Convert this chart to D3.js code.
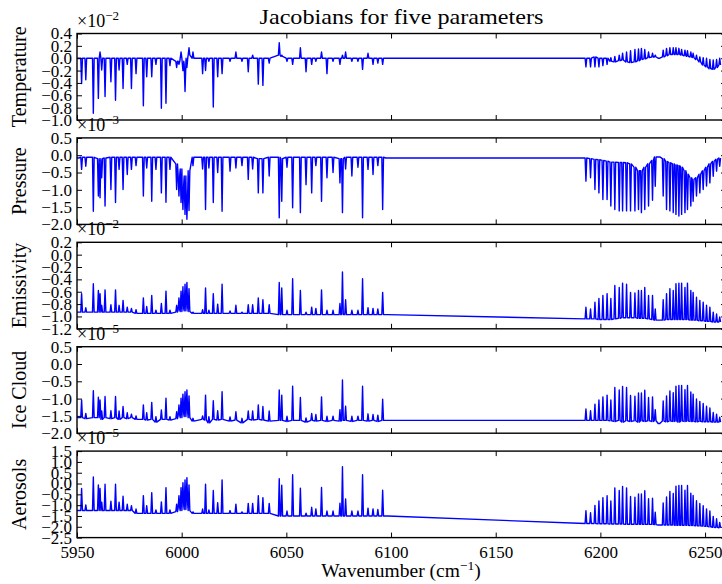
<!DOCTYPE html>
<html><head><meta charset="utf-8">
<script src="https://cdn.jsdelivr.net/npm/d3@7"></script>
<style>body{margin:0;background:#fff}svg{display:block}</style>
</head><body>
<script>
// ---------------- DATA ----------------
// spectral line centres (cm^-1), shared by all five Jacobians
const lineCenters = [
5950.4,5952.2,5954.2,5957.8,5960.2,5961.0,5961.8,5963.4,5966.2,5968.4,
5970.1,5972.0,5974.0,5976.0,5978.2,5981.7,5983.3,5985.7,5987.7,5990.3,
5992.5,5994.4,5997.6,5998.7,5999.7,6000.6,6001.6,6002.5,6003.5,6005.4,
6010.0,6011.4,6013.0,6015.1,6017.2,6019.3,6023.1,6025.9,6028.8,6031.8,
6033.9,6036.6,6038.8,6041.8,6046.6,6047.8,6050.3,6053.0,6056.7,6059.4,
6062.1,6064.1,6066.8,6069.4,6072.3,6075.6,6076.8,6078.3,6081.3,6084.2,
6086.4,6089.0,6091.4,6093.7,6096.0,6098.0,
6193.1,6195.3,6197.4,6199.3,6201.2,6203.2,6205.0,6206.9,6209.0,6210.6,
6212.5,6214.4,6216.5,6218.2,6219.6,6221.2,6223.0,6224.9,6226.2,6228.0,
6230.0,6231.6,6233.2,6234.8,6236.1,6237.5,6238.8,6240.4,6241.6,6243.2,
6244.3,6245.9,6247.5,6249.1,6250.7,6252.3,6253.9,6255.5,6257.0];

// Temperature Jacobian (x1e-2): value at line centre, and level on either side
const temperaturePeak = [
0,-0.41,-0.35,-0.89,-0.65,0.10,-0.19,-0.62,-0.38,-0.68,
-0.19,-0.49,-0.10,-0.49,-0.25,-0.77,-0.30,-0.30,-0.10,-0.81,
-0.73,-0.12,-0.15,-0.10,0.10,-0.20,-0.54,-0.15,0.17,0.10,
-0.25,-0.20,-0.05,-0.79,-0.30,-0.25,-0.05,0.10,-0.05,-0.22,
0.05,-0.42,-0.44,-0.08,0.25,0.05,-0.05,-0.10,0.17,-0.22,
-0.10,-0.05,0.10,-0.25,-0.05,-0.10,0.05,0.10,-0.05,-0.05,
-0.18,0.08,-0.10,-0.08,-0.10,0,
-0.14,-0.14,-0.14,-0.14,-0.12,-0.10,0.01,0.03,0.05,0.08,
0.10,0.12,0.14,0.15,0.16,0.14,0.10,0.08,0.05,0.00,
0.13,0.16,0.17,0.17,0.17,0.16,0.14,0.13,0.12,0.10,
0.08,0.05,0.02,0.01,0.00,-0.02,-0.03,-0.02,0.00];
const temperatureBase = [
0,0,0,0,0,0,0,0,0,0,
0,0,0,0,0,0,0,0,0,0,
0,0,-0.05,-0.05,0,-0.05,-0.10,0,0.05,0,
0,0,0,0,0,0,0,0,0,0,
0,0,0,0,0.05,0.03,0,0,0,0,
0,0,0,0,0,0,0,0,0,0,
0,0,0,0,0,0,
0.00,0.00,0.02,0.00,0.00,0.00,-0.05,-0.06,-0.04,-0.03,
-0.06,-0.07,-0.06,-0.04,-0.02,-0.01,0.01,0.02,0.02,0.00,
0.02,0.04,0.06,0.06,0.06,0.06,0.05,0.04,0.03,0.02,
0.01,-0.02,-0.06,-0.11,-0.14,-0.17,-0.18,-0.15,-0.11];

// Pressure Jacobian (x1e-3)
const pressurePeak = [
-0.08,-0.41,-0.32,-1.62,-1.18,-1.23,-0.65,-1.47,-0.99,-1.37,
-0.41,-0.99,-0.56,-0.41,-0.30,-1.18,-0.37,-1.33,-0.41,-1.09,
-1.36,-0.41,-0.99,-1.18,-1.37,-1.57,-1.71,-1.85,-1.60,-0.30,
-0.40,-1.57,-0.37,-1.37,-0.50,-1.62,-0.46,-0.37,-0.30,-0.70,
-0.40,-1.09,-1.09,-0.60,-1.81,-1.33,-0.35,-1.52,-1.66,-0.85,
-1.09,-0.30,-1.33,-0.65,-0.50,-0.80,-1.66,-0.40,-0.60,-0.35,
-1.81,-0.41,-0.56,-0.30,-1.57,-0.08,
-0.75,-0.65,-0.99,-1.09,-1.28,-1.28,-1.47,-1.57,-1.61,-1.61,
-1.61,-1.61,-1.61,-1.57,-1.66,-1.57,-1.47,-1.30,-0.90,-0.05,
-1.18,-1.57,-1.61,-1.66,-1.71,-1.76,-1.71,-1.66,-1.57,-1.47,
-1.33,-1.18,-1.09,-0.99,-0.89,-0.80,-0.61,-0.46,-0.32];
const pressureBase = [
-0.08,-0.06,-0.06,-0.06,-0.10,-0.15,-0.10,-0.08,-0.06,-0.06,
-0.06,-0.06,-0.06,-0.06,-0.06,-0.06,-0.06,-0.06,-0.06,-0.06,
-0.06,-0.06,-0.25,-0.55,-0.40,-0.80,-0.60,-1.00,-0.45,-0.06,
-0.06,-0.06,-0.06,-0.06,-0.06,-0.06,-0.06,-0.06,-0.06,-0.06,
-0.06,-0.10,-0.10,-0.06,-0.06,-0.10,-0.06,-0.06,-0.06,-0.06,
-0.06,-0.06,-0.06,-0.06,-0.06,-0.10,-0.10,-0.06,-0.06,-0.06,
-0.06,-0.06,-0.06,-0.06,-0.06,-0.08,
-0.08,-0.10,-0.12,-0.13,-0.15,-0.17,-0.20,-0.20,-0.21,-0.21,
-0.22,-0.25,-0.35,-0.45,-0.45,-0.35,-0.25,-0.15,-0.05,-0.05,
-0.10,-0.18,-0.22,-0.25,-0.28,-0.30,-0.35,-0.45,-0.55,-0.65,
-0.70,-0.65,-0.55,-0.45,-0.35,-0.25,-0.18,-0.12,-0.08];

// Emissivity Jacobian (x1e-2)
const emissivityPeak = [
-0.93,-0.63,-0.86,-0.47,-0.58,-0.63,-0.82,-0.57,-0.81,-0.57,
-0.82,-0.74,-0.85,-0.87,-0.89,-0.70,-0.84,-0.66,-0.90,-0.79,
-0.59,-0.90,-0.82,-0.70,-0.59,-0.52,-0.48,-0.45,-0.55,-0.93,
-0.89,-0.54,-0.90,-0.63,-0.80,-0.48,-0.91,-0.82,-0.93,-0.81,
-0.81,-0.70,-0.73,-0.81,-0.45,-0.54,-0.90,-0.39,-0.58,-0.93,
-0.85,-0.87,-0.57,-0.90,-0.90,-0.79,-0.28,-0.73,-0.90,-0.90,
-0.39,-0.86,-0.87,-0.88,-0.61,-0.97,
-0.85,-0.88,-0.77,-0.71,-0.66,-0.63,-0.71,-0.50,-0.53,-0.46,
-0.48,-0.61,-0.62,-0.58,-0.58,-0.53,-0.66,-0.66,-0.88,-1.06,
-0.73,-0.63,-0.55,-0.58,-0.47,-0.46,-0.46,-0.53,-0.46,-0.58,
-0.61,-0.69,-0.74,-0.77,-0.82,-0.85,-0.93,-0.96,-1.01];
const emissivityBase = [
-0.93,-0.93,-0.93,-0.93,-0.93,-0.93,-0.93,-0.93,-0.93,-0.93,
-0.93,-0.93,-0.93,-0.93,-0.95,-0.95,-0.95,-0.95,-0.95,-0.95,
-0.95,-0.95,-0.93,-0.90,-0.92,-0.88,-0.91,-0.87,-0.92,-0.95,
-0.95,-0.95,-0.95,-0.95,-0.95,-0.95,-0.95,-0.95,-0.95,-0.95,
-0.95,-0.95,-0.95,-0.95,-0.97,-0.97,-0.97,-0.97,-0.97,-0.97,
-0.97,-0.97,-0.97,-0.97,-0.97,-0.97,-0.97,-0.97,-0.97,-0.97,
-0.97,-0.97,-0.97,-0.97,-0.97,-0.97,
-1.04,-1.04,-1.04,-1.05,-1.05,-1.05,-1.05,-1.04,-1.03,-1.02,
-1.02,-1.02,-1.02,-1.03,-1.03,-1.03,-1.04,-1.05,-1.06,-1.06,
-1.06,-1.05,-1.05,-1.05,-1.05,-1.05,-1.05,-1.05,-1.05,-1.06,
-1.06,-1.06,-1.07,-1.07,-1.08,-1.08,-1.09,-1.09,-1.09];

// Ice cloud Jacobian (x1e-5)
const iceCloudPeak = [
-1.55,-1.04,-1.43,-0.77,-0.96,-1.04,-1.36,-0.94,-1.35,-0.94,
-1.36,-1.23,-1.41,-1.45,-1.50,-1.18,-1.41,-1.11,-1.52,-1.33,
-0.99,-1.52,-1.38,-1.18,-0.99,-0.87,-0.80,-0.75,-0.92,-1.57,
-1.50,-0.90,-1.52,-1.06,-1.35,-0.80,-1.53,-1.38,-1.57,-1.36,
-1.36,-1.18,-1.23,-1.36,-0.75,-0.90,-1.51,-0.64,-0.97,-1.56,
-1.43,-1.46,-0.95,-1.51,-1.51,-1.32,-0.46,-1.22,-1.51,-1.51,
-0.64,-1.44,-1.46,-1.48,-1.02,-1.63,
-1.30,-1.35,-1.16,-1.04,-0.95,-0.90,-1.04,-0.68,-0.75,-0.65,
-0.68,-0.91,-0.93,-0.84,-0.84,-0.76,-0.97,-0.95,-1.32,-1.72,
-1.07,-0.92,-0.78,-0.83,-0.64,-0.62,-0.62,-0.74,-0.62,-0.81,
-0.87,-1.01,-1.08,-1.14,-1.22,-1.27,-1.40,-1.45,-1.54];
const iceCloudBase = [
-1.55,-1.55,-1.58,-1.55,-1.55,-1.55,-1.60,-1.55,-1.58,-1.55,
-1.60,-1.55,-1.58,-1.55,-1.60,-1.60,-1.62,-1.60,-1.68,-1.60,
-1.60,-1.62,-1.58,-1.50,-1.55,-1.45,-1.52,-1.42,-1.55,-1.65,
-1.60,-1.62,-1.70,-1.60,-1.62,-1.60,-1.65,-1.62,-1.70,-1.60,
-1.62,-1.60,-1.62,-1.65,-1.63,-1.63,-1.66,-1.63,-1.63,-1.68,
-1.63,-1.65,-1.63,-1.66,-1.63,-1.65,-1.63,-1.63,-1.66,-1.63,
-1.63,-1.65,-1.63,-1.66,-1.63,-1.63,
-1.63,-1.63,-1.63,-1.63,-1.63,-1.63,-1.64,-1.66,-1.63,-1.68,
-1.64,-1.66,-1.64,-1.68,-1.64,-1.66,-1.64,-1.66,-1.64,-1.72,
-1.65,-1.67,-1.65,-1.66,-1.65,-1.68,-1.65,-1.66,-1.65,-1.66,
-1.66,-1.67,-1.66,-1.67,-1.67,-1.67,-1.68,-1.68,-1.68];

// Aerosols Jacobian (x1e-5)
const aerosolsPeak = [
-1.25,-0.23,-0.99,0.30,-0.07,-0.23,-0.86,-0.03,-0.82,-0.03,
-0.86,-0.59,-0.96,-1.02,-1.18,-0.56,-1.02,-0.42,-1.22,-0.85,
-0.19,-1.22,-0.95,-0.56,-0.19,0.04,0.17,0.27,-0.06,-1.31,
-1.18,-0.03,-1.22,-0.32,-0.89,0.17,-1.25,-0.95,-1.31,-0.92,
-0.92,-0.56,-0.65,-0.92,0.22,-0.08,-1.27,0.41,-0.21,-1.37,
-1.10,-1.17,-0.18,-1.27,-1.27,-0.91,0.78,-0.71,-1.27,-1.27,
0.41,-1.14,-1.17,-1.20,-0.31,-1.50,
-1.26,-1.35,-1.01,-0.80,-0.65,-0.56,-0.81,-0.20,-0.32,-0.13,
-0.20,-0.60,-0.63,-0.48,-0.48,-0.33,-0.70,-0.68,-1.33,-1.92,
-0.90,-0.62,-0.37,-0.46,-0.12,-0.09,-0.09,-0.31,-0.09,-0.45,
-0.55,-0.79,-0.92,-1.03,-1.17,-1.27,-1.52,-1.63,-1.80];
const aerosolsBase = [
-1.25,-1.25,-1.25,-1.25,-1.25,-1.25,-1.25,-1.25,-1.25,-1.25,
-1.25,-1.25,-1.25,-1.25,-1.38,-1.38,-1.38,-1.38,-1.38,-1.38,
-1.38,-1.38,-1.30,-1.15,-1.25,-1.05,-1.20,-1.00,-1.25,-1.38,
-1.38,-1.38,-1.38,-1.38,-1.38,-1.38,-1.38,-1.38,-1.38,-1.38,
-1.38,-1.38,-1.38,-1.38,-1.50,-1.50,-1.50,-1.50,-1.50,-1.50,
-1.50,-1.50,-1.50,-1.50,-1.50,-1.50,-1.50,-1.50,-1.50,-1.50,
-1.50,-1.50,-1.50,-1.50,-1.50,-1.50,
-1.85,-1.85,-1.85,-1.86,-1.86,-1.86,-1.87,-1.87,-1.87,-1.87,
-1.88,-1.88,-1.88,-1.88,-1.88,-1.89,-1.89,-1.89,-1.90,-1.92,
-1.92,-1.92,-1.92,-1.92,-1.93,-1.93,-1.93,-1.93,-1.93,-1.94,
-1.94,-1.95,-1.96,-1.97,-1.98,-2.00,-2.02,-2.03,-2.05];

// axis ticks
const xTicks = [5950, 6000, 6050, 6100, 6150, 6200, 6250];
const temperatureTicks = [0.4, 0.2, 0, -0.2, -0.4, -0.6, -0.8, -1.0];
const pressureTicks = [0.5, 0, -0.5, -1.0, -1.5, -2.0];
const emissivityTicks = [0.2, 0, -0.2, -0.4, -0.6, -0.8, -1.0, -1.2];
const iceCloudTicks = [0.5, 0, -0.5, -1.0, -1.5, -2.0];
const aerosolsTicks = [1.5, 1.0, 0.5, 0, -0.5, -1.0, -1.5, -2.0, -2.5];

const panels = [
  {label: "Temperature", exp: "−2", ticks: temperatureTicks, peak: temperaturePeak, base: temperatureBase},
  {label: "Pressure",    exp: "−3", ticks: pressureTicks,    peak: pressurePeak,    base: pressureBase},
  {label: "Emissivity",  exp: "−2", ticks: emissivityTicks,  peak: emissivityPeak,  base: emissivityBase},
  {label: "Ice Cloud",   exp: "−5", ticks: iceCloudTicks,    peak: iceCloudPeak,    base: iceCloudBase},
  {label: "Aerosols",    exp: "−5", ticks: aerosolsTicks,    peak: aerosolsPeak,    base: aerosolsBase}
];

// ---------------- DRAWING ----------------
const W = 722, H = 584;
const FONT = "'Liberation Serif','Times New Roman',serif";
const svg = d3.select("body").append("svg").attr("width", W).attr("height", H)
  .style("font-family", FONT);
svg.append("rect").attr("width", W).attr("height", H).attr("fill", "#fff");
const defs = svg.append("defs");

const left = 77, right = 726;
const x = d3.scaleLinear().domain([5950, 6260]).range([left, right]);
const panelTop = 33.5, panelH = 86.5, panelStep = 104.4;
const halfWidth = 0.4;
const fmt = d3.format(".1f");
const TICKFONT = "17px";

panels.forEach((p, i) => {
  const top = panelTop + i * panelStep, bot = top + panelH;
  const ext = [p.ticks[p.ticks.length - 1], p.ticks[0]];
  const y = d3.scaleLinear().domain(ext).range([bot, top]);
  const g = svg.append("g");

  const cp = "clip" + i;
  defs.append("clipPath").attr("id", cp)
    .append("rect").attr("x", left).attr("y", top).attr("width", right - left).attr("height", panelH);

  const pts = [];
  lineCenters.forEach((c, k) => {
    pts.push([c - halfWidth, p.base[k]], [c, p.peak[k]], [c + halfWidth, p.base[k]]);
  });
  g.append("path").datum(pts)
    .attr("d", d3.line().x(d => x(d[0])).y(d => y(d[1])))
    .attr("fill", "none").attr("stroke", "#0000ff").attr("stroke-width", 1.4)
    .attr("stroke-linejoin", "round")
    .attr("clip-path", `url(#${cp})`);

  // axes with inward ticks
  const yAxL = d3.axisLeft(y).tickValues(p.ticks).tickSizeInner(-5).tickSizeOuter(0)
    .tickPadding(5).tickFormat(d => fmt(d));
  const ga = g.append("g").attr("transform", `translate(${left},0)`).call(yAxL);
  const yAxR = d3.axisRight(y).tickValues(p.ticks).tickSizeInner(-5).tickSizeOuter(0).tickFormat("");
  const gr = g.append("g").attr("transform", `translate(${right},0)`).call(yAxR);
  const xAxT = d3.axisTop(x).tickValues(xTicks).tickSizeInner(-5).tickSizeOuter(0).tickFormat("");
  const gt = g.append("g").attr("transform", `translate(0,${top})`).call(xAxT);
  const xAxB = d3.axisBottom(x).tickValues(xTicks).tickSizeInner(-5).tickSizeOuter(0)
    .tickPadding(8).tickFormat(i === panels.length - 1 ? d3.format("d") : "");
  const gb = g.append("g").attr("transform", `translate(0,${bot})`).call(xAxB);

  [ga, gr, gt, gb].forEach(a => {
    a.select(".domain").remove();
    a.selectAll(".tick line").attr("stroke", "#000").attr("stroke-width", 1);
    a.selectAll(".tick text").attr("fill", "#000").style("font-family", FONT).style("font-size", TICKFONT);
  });

  g.append("rect").attr("x", left).attr("y", top).attr("width", right - left).attr("height", panelH)
    .attr("fill", "none").attr("stroke", "#000").attr("stroke-width", 1.4);

  // multiplier
  const m = g.append("text").attr("x", left).attr("y", top - 7).attr("fill", "#000")
    .style("font-size", "18px");
  m.append("tspan").text("×10");
  m.append("tspan").attr("dy", -7).style("font-size", "13px").text(p.exp);

  // y label
  g.append("text").attr("transform", `translate(26,${(top + bot) / 2}) rotate(-90)`)
    .attr("text-anchor", "middle").attr("fill", "#000").style("font-size", "20px").text(p.label);
});

svg.append("text").attr("x", (left + right) / 2).attr("y", 24).attr("text-anchor", "middle")
  .style("font-size", "22px").attr("fill", "#000")
  .attr("textLength", 284).attr("lengthAdjust", "spacingAndGlyphs")
  .text("Jacobians for five parameters");

const xl = svg.append("text").attr("x", 401).attr("y", 577).attr("text-anchor", "middle")
  .style("font-size", "19.5px").attr("fill", "#000");
xl.append("tspan").text("Wavenumber (cm");
xl.append("tspan").attr("dy", -7).style("font-size", "13.5px").text("−1");
xl.append("tspan").attr("dy", 7).text(")");
</script>
</body></html>
